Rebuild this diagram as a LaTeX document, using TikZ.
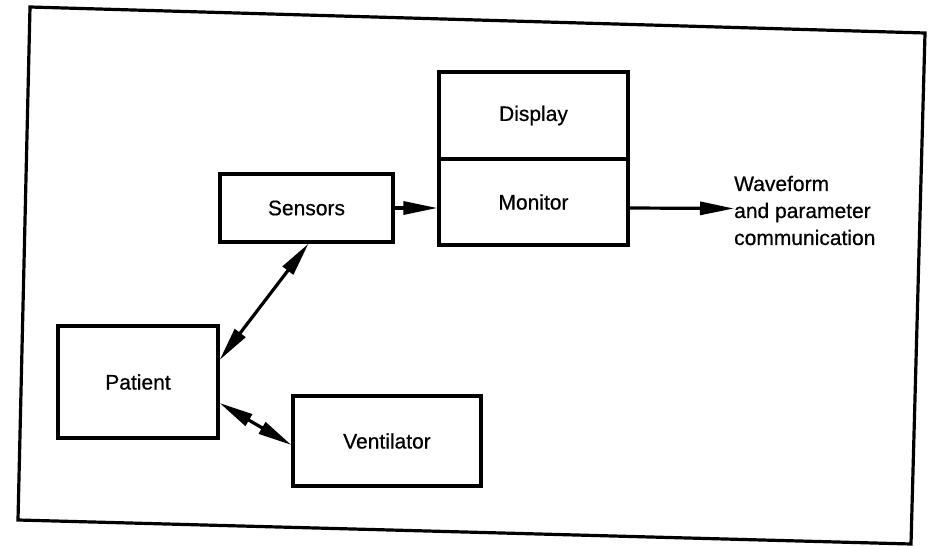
\documentclass[tikz,border=0pt]{standalone}
\usepackage{fontspec}
\setmainfont[FakeBold=0.6]{Liberation Sans}
\usetikzlibrary{arrows.meta}
\begin{document}
\begin{tikzpicture}[x=1pt,y=-1pt,
  >={Triangle[length=34pt,width=13pt]},
  box/.style={draw, line width=3.2pt, inner sep=0pt, font=\fontsize{21}{27}\selectfont},
  conn/.style={line width=3.2pt},
  lbl/.style={align=left, inner sep=0pt, font=\fontsize{21}{27}\selectfont}]
\useasboundingbox (0,0) rectangle (932,546);
% outer frame
\coordinate (f1) at (30,7);
\coordinate (f2) at (925,33);
\coordinate (f3) at (911,544);
\coordinate (f4) at (18,520);
\draw[line width=3.2pt] (f1) -- (f2) -- (f3) -- (f4) -- cycle;
% boxes
\node[box, minimum width=189pt, minimum height=87pt] (display) at (533.5,115.5) {Display};
\node[box, minimum width=189pt, minimum height=86pt] (monitor) at (533.5,202) {Monitor};
\node[box, minimum width=173pt, minimum height=68pt] (sensors) at (306.5,208) {Sensors};
\node[box, minimum width=160pt, minimum height=112pt] (patient) at (138,382) {Patient};
\node[box, minimum width=188pt, minimum height=90pt] (ventilator) at (387,441) {Ventilator};
\node[lbl, anchor=west] (wave) at (734,210.5) {Waveform\\and parameter\\communication};
% connectors
\draw[conn, ->] (sensors.east) -- (sensors.east -| monitor.west);
\draw[conn, ->] ([yshift=-6pt]monitor.east) -- ([yshift=2pt]wave.west);
\draw[conn, <->] ([xshift=2pt]sensors.south) -- ([yshift=22pt]patient.east);
\draw[conn, <->] ([yshift=-21pt]patient.east) -- ([yshift=-4pt]ventilator.west);
\end{tikzpicture}
\end{document}
